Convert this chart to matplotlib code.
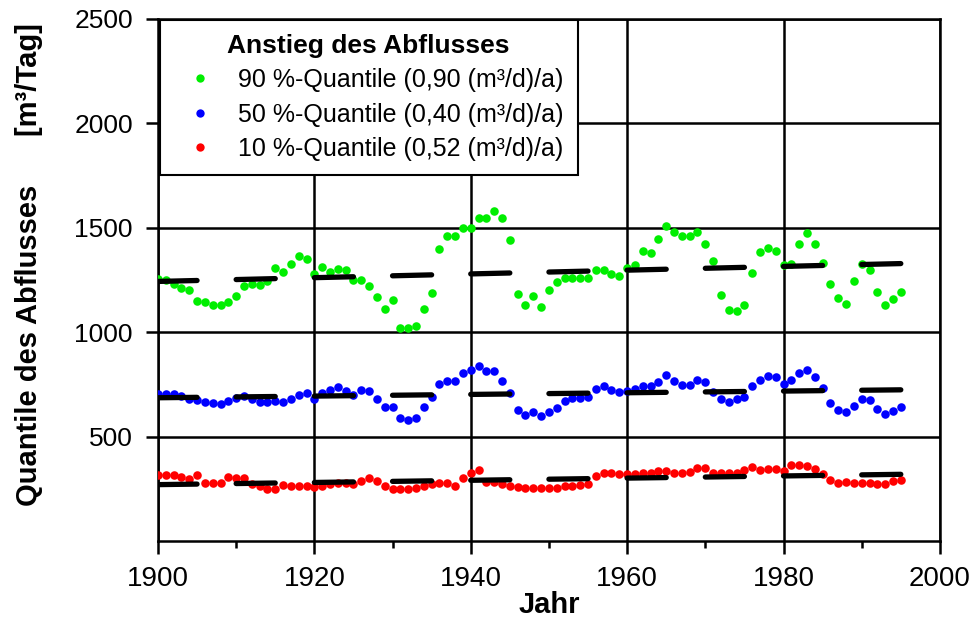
import matplotlib

matplotlib.use("Agg")
import matplotlib.pyplot as plt
import numpy as np
from matplotlib.lines import Line2D

plt.rcParams["font.family"] = ["Liberation Sans", "DejaVu Sans"]

years = np.arange(1900, 1996)

q90 = [1254, 1250, 1229, 1211, 1201, 1150, 1143, 1130, 1130, 1143,
       1174, 1220, 1229, 1225, 1243, 1306, 1290, 1328, 1365, 1349,
       1281, 1310, 1287, 1301, 1297, 1248, 1251, 1220, 1167, 1112,
       1152, 1022, 1022, 1031, 1112, 1190, 1400, 1459, 1459, 1498,
       1498, 1548, 1548, 1579, 1548, 1440, 1181, 1129, 1173, 1122,
       1201, 1241, 1260, 1260, 1260, 1260, 1300, 1300, 1281, 1270,
       1305, 1320, 1387, 1381, 1448, 1510, 1479, 1460, 1460, 1479,
       1420, 1341, 1176, 1105, 1101, 1130, 1282, 1382, 1403, 1389,
       1320, 1328, 1420, 1476, 1420, 1333, 1232, 1165, 1133, 1244,
       1328, 1298, 1193, 1129, 1160, 1192]

q50 = [705, 705, 705, 693, 681, 674, 665, 660, 655, 671,
       684, 693, 678, 668, 668, 671, 665, 678, 698, 710,
       678, 708, 724, 736, 720, 698, 724, 717, 682, 643,
       643, 589, 578, 590, 641, 690, 752, 768, 768, 805,
       817, 838, 814, 814, 767, 711, 629, 605, 620, 598,
       620, 638, 670, 686, 686, 689, 727, 741, 722, 712,
       717, 730, 744, 740, 762, 795, 765, 746, 749, 771,
       762, 714, 681, 667, 681, 690, 741, 771, 792, 784,
       752, 771, 806, 819, 787, 733, 662, 629, 616, 646,
       682, 676, 631, 608, 624, 641]

q10 = [317, 317, 317, 308, 298, 317, 276, 276, 276, 306,
       300, 300, 271, 262, 249, 249, 268, 262, 262, 262,
       260, 262, 274, 279, 276, 274, 289, 303, 286, 265,
       250, 249, 249, 252, 265, 274, 276, 276, 263, 301,
       327, 340, 281, 281, 274, 263, 259, 252, 252, 252,
       252, 252, 263, 263, 268, 273, 310, 327, 325, 322,
       322, 322, 324, 324, 335, 335, 325, 324, 332, 349,
       349, 324, 324, 324, 327, 338, 355, 338, 343, 343,
       335, 362, 362, 359, 343, 319, 293, 276, 281, 276,
       276, 276, 274, 274, 287, 293]

# linear trend: value at 1900 and slope in (m3/d)/a
trend_start = [1243, 686, 270]
trend_slope = [0.90, 0.40, 0.52]

labels = ["90 %-Quantile (0,90 (m³/d)/a)",
          "50 %-Quantile (0,40 (m³/d)/a)",
          "10 %-Quantile (0,52 (m³/d)/a)"]
colors = ["#00ee00", "#0000ff", "#ff0000"]

fig = plt.figure(figsize=(9.75, 6.23), dpi=100)
ax = fig.add_axes([0.162, 0.1316, 0.802, 0.838])

for series, col in zip([q90, q50, q10], colors):
    ax.scatter(years, series, s=38, color=col, linewidths=0, zorder=3)

# trend drawn as 5-year pieces every decade
for y0, k in zip(trend_start, trend_slope):
    for dec in range(1900, 2000, 10):
        xs = np.array([dec, dec + 5])
        ax.plot(xs, y0 + k * (xs - 1900), color="black", lw=3.8,
                solid_capstyle="round", zorder=4)

ax.set_xlim(1900, 2000)
ax.set_ylim(0, 2500)
ax.set_xticks(range(1900, 2001, 20))
ax.set_xticks(range(1910, 2000, 20), minor=True)
ax.set_yticks(range(500, 2501, 500))
ax.tick_params(axis="both", which="major", length=9, width=1.8, direction="out")
ax.tick_params(axis="x", which="major", labelsize=20, pad=9)
ax.tick_params(axis="y", which="major", labelsize=19, pad=9)
ax.tick_params(axis="x", which="minor", length=5, width=1.8, direction="out")
ax.grid(True, color="black", linewidth=1.8)
ax.set_axisbelow(True)
for side in ["left", "bottom", "top", "right"]:
    ax.spines[side].set_linewidth(1.8)

ax.set_xlabel("Jahr", fontsize=21, fontweight="bold")
ax.xaxis.set_label_coords(0.5, -0.095)
ax.set_ylabel("Quantile des Abflusses      [m³/Tag]", fontsize=21, fontweight="bold")
ax.yaxis.set_label_coords(-0.147, 0.53)

handles = [Line2D([0], [0], marker="o", color="w", markerfacecolor=c, markeredgewidth=0,
                  markersize=6) for c in colors]
leg = ax.legend(handles, labels, title="Anstieg des Abflusses", loc="upper left",
                bbox_to_anchor=(0.002, 0.998), borderaxespad=0, fontsize=18, title_fontsize=19,
                fancybox=False, framealpha=1, edgecolor="black", handlelength=2.1,
                handletextpad=0.5, labelspacing=0.42, borderpad=0.55)
leg.get_title().set_fontweight("bold")
leg.get_frame().set_linewidth(1.5)

fig.savefig("out.png", dpi=100)
